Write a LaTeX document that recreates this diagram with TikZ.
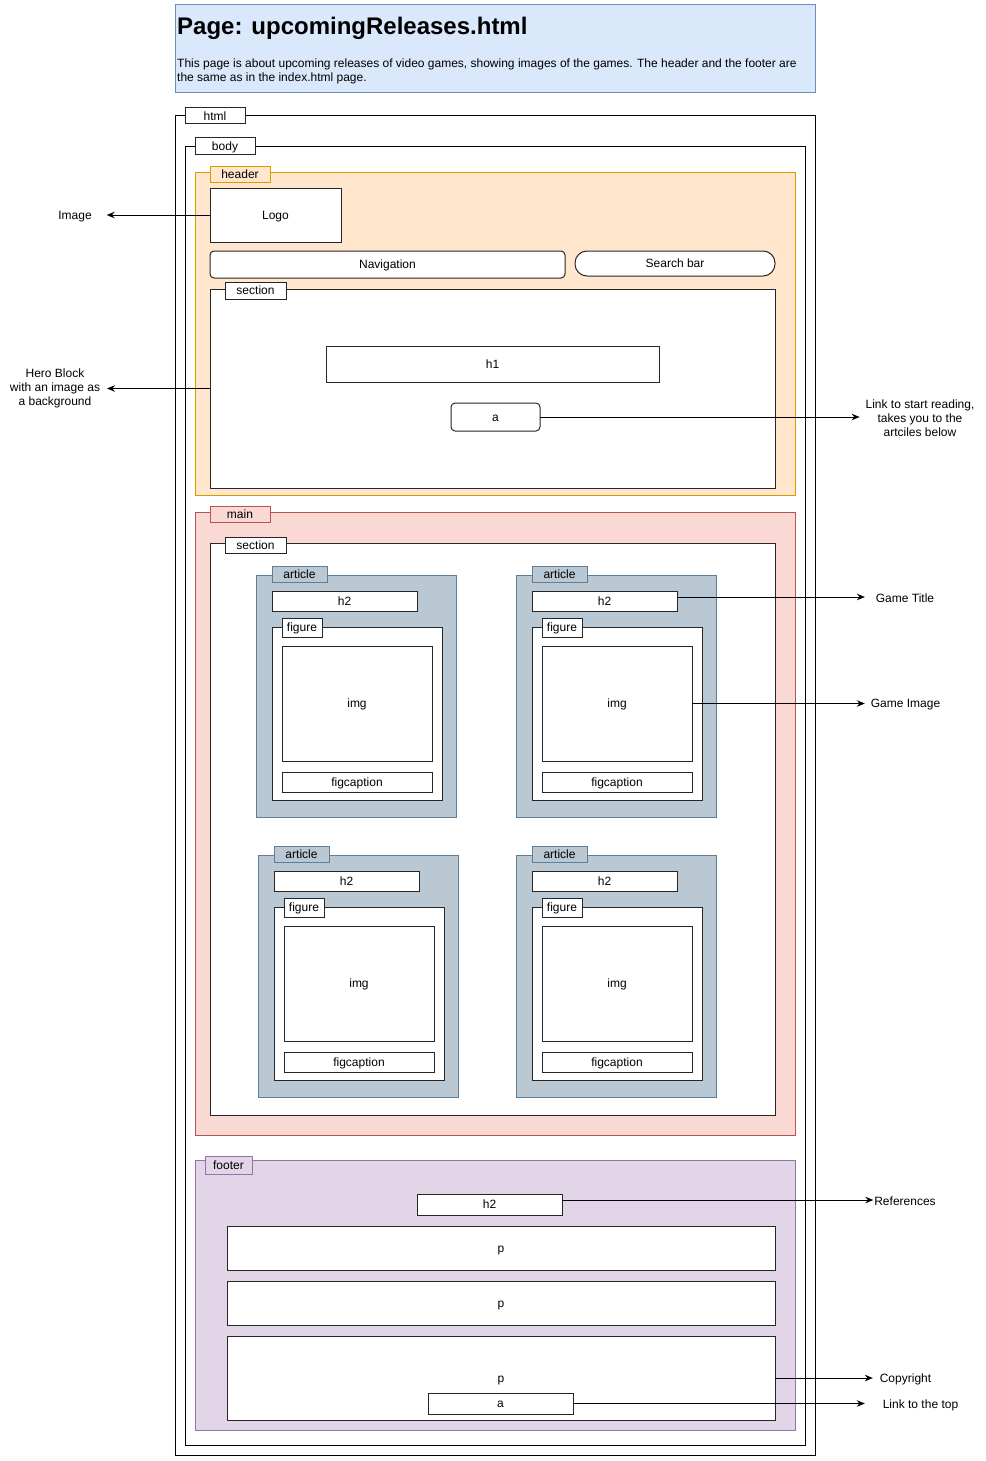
\documentclass[tikz,border=0pt]{standalone}
\usepackage{fontspec}
\setmainfont{Liberation Sans}
\usetikzlibrary{arrows.meta}
\definecolor{titlefill}{HTML}{DAE8FC}
\definecolor{titledraw}{HTML}{6C8EBF}
\definecolor{headfill}{HTML}{FFE6CC}
\definecolor{headdraw}{HTML}{D79B00}
\definecolor{mainfill}{HTML}{FAD9D5}
\definecolor{maindraw}{HTML}{B85450}
\definecolor{artfill}{HTML}{BAC8D3}
\definecolor{artdraw}{HTML}{5F7E96}
\definecolor{footfill}{HTML}{E1D5E7}
\definecolor{footdraw}{HTML}{9673A6}

\begin{document}
\begin{tikzpicture}
[
	x=1pt, y=-1pt,
	every node/.style = {font=\fontsize{12}{14}\selectfont},
	box/.style = {draw=black!85, fill=white, line width=1pt, inner sep=0pt, outer sep=0pt, text height=11pt, text depth=2.4pt},
	frame/.style = {draw=black, line width=1pt, inner sep=0pt, outer sep=0pt},
	headbox/.style = {box, draw=headdraw, fill=headfill},
	mainbox/.style = {box, draw=maindraw, fill=mainfill},
	artbox/.style = {box, draw=artdraw, fill=artfill},
	footbox/.style = {box, draw=footdraw, fill=footfill},
	note/.style = {align=center, inner ysep=0pt, outer sep=0pt},
	arr/.style = {line width=1pt, -{Stealth[length=8pt,width=6.5pt]}},
]
\useasboundingbox (0,0) rectangle (985,1461);

% title
\node[box, draw=titledraw, fill=titlefill, minimum width=640pt, minimum height=88pt] (title) at (495,49) {};
\node[anchor=west, inner sep=0pt, font=\fontsize{24}{28}\selectfont\bfseries] (titletxt) at (177,28) {Page: upcomingReleases.html};
\node[anchor=north west, inner sep=0pt, align=left] (desc) at (177,59) {This page is about upcoming releases of video games, showing images of the games. The header and the footer are\\the same as in the index.html page.};

% html and body
\node[frame, minimum width=640pt, minimum height=1339pt] (html) at (495,785.5) {};
\node[box, minimum width=60pt, minimum height=16pt] (htmltag) at (215,116) {html};
\node[frame, minimum width=620pt, minimum height=1299pt] (body) at (495,795.5) {};
\node[box, minimum width=60pt, minimum height=16pt] (bodytag) at (225,146) {body};

% header
\node[headbox, minimum width=600pt, minimum height=323pt] (header) at (495,333.5) {};
\node[headbox, minimum width=60pt, minimum height=16pt] (headertag) at (240,174) {header};
\node[box, minimum width=131pt, minimum height=54pt] (logo) at (275.5,215) {Logo};
\node[box, rounded corners=4pt, minimum width=355pt, minimum height=27pt] (nav) at (387.5,264.5) {Navigation};
\node[box, rounded corners=12pt, minimum width=200pt, minimum height=25pt] (search) at (675,263.5) {Search bar};
\node[box, minimum width=565pt, minimum height=199pt] (hero) at (492.5,388.5) {};
\node[box, minimum width=61pt, minimum height=17pt] (herotag) at (255.5,290.5) {section};
\node[box, minimum width=333pt, minimum height=36pt] (h1) at (492.5,364) {h1};
\node[box, rounded corners=4pt, minimum width=89pt, minimum height=28pt] (start) at (495.5,417) {a};

% main
\node[mainbox, minimum width=600pt, minimum height=623pt] (main) at (495,823.5) {};
\node[mainbox, minimum width=60pt, minimum height=16pt] (maintag) at (240,514) {main};
\node[box, minimum width=565pt, minimum height=572pt] (games) at (492.5,829) {};
\node[box, minimum width=61pt, minimum height=16pt] (gamestag) at (255.5,545) {section};

\foreach \ax/\ay/\n in {256/575/1, 516/575/2, 258/855/3, 516/855/4}
{
	\node[artbox, minimum width=200pt, minimum height=242pt] (art\n) at (\ax+100,\ay+121) {};
	\node[artbox, minimum width=55pt, minimum height=16pt] (arttag\n) at (\ax+43.5,\ay-1) {article};
	\node[box, minimum width=145pt, minimum height=20pt] (h2-\n) at (\ax+88.5,\ay+26) {h2};
	\node[box, minimum width=170pt, minimum height=173pt] (fig\n) at (\ax+101,\ay+138.5) {};
	\node[box, minimum width=40pt, minimum height=19pt] (figtag\n) at (\ax+46,\ay+52.5) {figure};
	\node[box, minimum width=150pt, minimum height=115pt] (img\n) at (\ax+101,\ay+128.5) {img};
	\node[box, minimum width=150pt, minimum height=20pt] (cap\n) at (\ax+101,\ay+207) {figcaption};
}

% footer
\node[footbox, minimum width=600pt, minimum height=270pt] (footer) at (495,1295) {};
\node[footbox, minimum width=47pt, minimum height=18pt] (footertag) at (228.5,1165) {footer};
\node[box, minimum width=145pt, minimum height=21pt] (refs) at (489.5,1204.5) {h2};
\node[box, minimum width=548pt, minimum height=44pt] (p1) at (501,1248) {p};
\node[box, minimum width=548pt, minimum height=44pt] (p2) at (501,1303) {p};
\node[box, minimum width=548pt, minimum height=84pt] (p3) at (501,1378) {p};
\node[box, minimum width=145pt, minimum height=21pt] (top) at (500.5,1403.5) {a};

% notes
\node[note, inner xsep=15pt] (imgnote) at (75,216.5) {Image};
\node[note, inner xsep=7pt] (heronote) at (55,388.5) {Hero Block\\with an image as\\a background};
\node[note, inner xsep=6pt] (startnote) at (920,418.5) {Link to start reading,\\takes you to the\\artciles below};
\node[note, inner xsep=11pt] (titlenote) at (905,598) {Game Title};
\node[note, inner xsep=6pt] (imagenote) at (905.5,705) {Game Image};
\node[note, inner xsep=1pt] (refnote) at (905,1201) {References};
\node[note, inner xsep=7pt] (copynote) at (905.5,1379) {Copyright};
\node[note, inner xsep=18pt] (topnote) at (920.5,1405) {Link to the top};

\draw[arr] (logo.west) -- (logo.west -| imgnote.east);
\draw[arr] (hero.west) -- (heronote.east);
\draw[arr] (start.east) -- (start.east -| startnote.west);
\draw[arr] (h2-2.east |- 0,597) -- (titlenote.west |- 0,597);
\draw[arr] (img2.east) -- (img2.east -| imagenote.west);
\draw[arr] (refs.east |- 0,1200) -- (refnote.west |- 0,1200);
\draw[arr] (p3.east) -- (p3.east -| copynote.west);
\draw[arr] (top.east) -- (top.east -| topnote.west);
\end{tikzpicture}
\end{document}
